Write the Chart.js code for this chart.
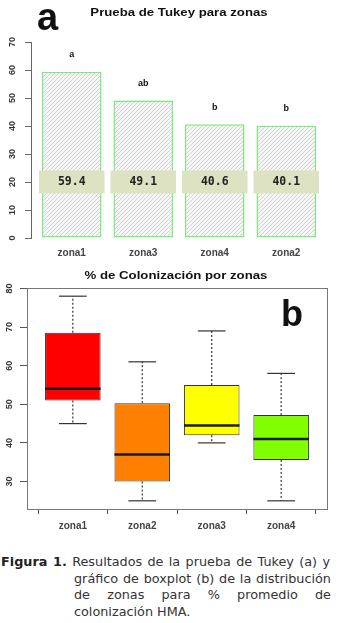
<!DOCTYPE html>
<html>
<head>
<meta charset="utf-8">
<script src="https://cdn.jsdelivr.net/npm/chart.js@4.4.1/dist/chart.umd.min.js"></script>
<style>
body{margin:0;background:#fff;width:337px;height:623px;position:relative;overflow:hidden;}
canvas{position:absolute;left:0;display:block;}
#graficoA{top:0;}
#graficoB{top:262px;}
.rotulo{position:absolute;font-family:"Liberation Sans",Arial,sans-serif;font-weight:bold;color:#111;line-height:1;white-space:nowrap;}
#titA{left:179px;top:7px;font-size:11px;transform:translateX(-50%) scaleX(1.2);}
#titB{left:176px;top:270px;font-size:11.5px;transform:translateX(-50%) scaleX(1.15);}
#letraA{left:37px;top:-2px;font-size:38px;}
#letraB{left:281px;top:296px;font-size:36px;}
#leyenda{position:absolute;left:1px;top:554px;font-family:"DejaVu Sans",Verdana,sans-serif;font-size:12.8px;line-height:16.7px;color:#333;}
#leyenda div{white-space:nowrap;}
#leyenda .l1{width:329px;text-align:justify;text-align-last:justify;}
#leyenda .lj{margin-left:73px;width:257px;text-align:justify;text-align-last:justify;}
#leyenda .ll{margin-left:73px;}
#leyenda b{color:#222;}
</style>
</head>
<body>
<canvas id="graficoA" width="337" height="262"></canvas>
<canvas id="graficoB" width="337" height="273"></canvas>
<div class="rotulo" id="titA">Prueba de Tukey para zonas</div>
<div class="rotulo" id="letraA">a</div>
<div class="rotulo" id="titB">% de Colonización por zonas</div>
<div class="rotulo" id="letraB">b</div>
<div id="leyenda">
  <div class="l1"><b>Figura 1.</b> Resultados de la prueba de Tukey (a) y</div>
  <div class="lj">gráfico de boxplot (b) de la distribución</div>
  <div class="lj">de zonas para % promedio de</div>
  <div class="ll">colonización HMA.</div>
</div>
<script>
// ===== datos (a) prueba de Tukey =====
const zonasA = ["zona1", "zona3", "zona4", "zona2"];
const mediasA = [59.4, 49.1, 40.6, 40.1];
const letrasTukey = ["a", "ab", "b", "b"];
const ticksA = [0, 10, 20, 30, 40, 50, 60, 70];

// ===== datos (b) boxplot =====
const zonasB = ["zona1", "zona2", "zona3", "zona4"];
const minB = [45, 25, 40, 25];
const q1B = [51, 30, 42, 35.6];
const medB = [54, 37, 44.5, 41];
const q3B = [68.5, 50.3, 55, 47.2];
const maxB = [78, 61, 69, 58];
const ticksB = [30, 40, 50, 60, 70, 80];
const coloresB = ["#ff0000", "#ff8000", "#ffff00", "#80ff00"];

const fuenteEje = '"Liberation Sans", Arial, sans-serif';

// trama rayada de las barras
function crearTrama(){
    const c = document.createElement("canvas");
    c.width = 4; c.height = 4;
    const g = c.getContext("2d");
    g.fillStyle = "#f7f7f7";
    g.fillRect(0, 0, 4, 4);
    g.strokeStyle = "#c6c6c6";
    g.lineWidth = 0.8;
    g.beginPath();
    g.moveTo(0, 4); g.lineTo(4, 0);
    g.moveTo(-1, 1); g.lineTo(1, -1);
    g.moveTo(3, 5); g.lineTo(5, 3);
    g.stroke();
    return g.createPattern(c, "repeat");
}

// etiquetas del eje Y giradas (estilo R)
function etiquetasY(cx){
    return {
        id: "etiquetasY",
        afterDraw(chart){
            const {ctx, scales:{y}} = chart;
            ctx.save();
            ctx.font = "bold 9px " + fuenteEje;
            ctx.fillStyle = "#333";
            ctx.textAlign = "center";
            ctx.textBaseline = "middle";
            y.ticks.forEach(t => {
                ctx.save();
                ctx.translate(cx, y.getPixelForValue(t.value));
                ctx.rotate(-Math.PI / 2);
                ctx.fillText(String(t.value), 0, 0);
                ctx.restore();
            });
            ctx.restore();
        }
    };
}

// letras de Tukey + bandas con las medias
const tukeyPlugin = {
    id: "tukey",
    afterDatasetsDraw(chart){
        const {ctx, scales:{y}} = chart;
        const barras = chart.getDatasetMeta(0).data;
        const yBanda = y.getPixelForValue(20);
        ctx.save();
        barras.forEach((b, i) => {
            const w = b.width + 6;
            ctx.fillStyle = "#dde3c2";
            ctx.fillRect(b.x - w / 2, yBanda - 11.5, w, 23);
            ctx.fillStyle = "#222";
            ctx.font = 'bold 11.5px "DejaVu Sans Mono", monospace';
            ctx.textAlign = "center";
            ctx.textBaseline = "middle";
            ctx.fillText(mediasA[i].toFixed(1), b.x, yBanda);
            ctx.font = "bold 9px " + fuenteEje;
            ctx.fillStyle = "#111";
            ctx.fillText(letrasTukey[i], b.x, y.getPixelForValue(mediasA[i] + 6));
        });
        ctx.restore();
    }
};

// bigotes, topes y medianas del boxplot
const cajasPlugin = {
    id: "cajas",
    afterDatasetsDraw(chart){
        const {ctx, scales:{x, y}} = chart;
        const medio = chart.getDatasetMeta(0).data[0].width / 2;
        const linea = (x1, y1, x2, y2) => {
            ctx.beginPath(); ctx.moveTo(x1, y1); ctx.lineTo(x2, y2); ctx.stroke();
        };
        ctx.save();
        zonasB.forEach((z, i) => {
            const cx = x.getPixelForValue(i + 1);
            ctx.strokeStyle = "#333";
            ctx.lineWidth = 1.2;
            ctx.setLineDash([2, 2]);
            linea(cx, y.getPixelForValue(q3B[i]), cx, y.getPixelForValue(maxB[i]));
            linea(cx, y.getPixelForValue(q1B[i]), cx, y.getPixelForValue(minB[i]));
            ctx.setLineDash([]);
            linea(cx - medio / 2, y.getPixelForValue(maxB[i]), cx + medio / 2, y.getPixelForValue(maxB[i]));
            linea(cx - medio / 2, y.getPixelForValue(minB[i]), cx + medio / 2, y.getPixelForValue(minB[i]));
            ctx.strokeStyle = "#1a1a1a";
            ctx.lineWidth = 2.5;
            linea(cx - medio, y.getPixelForValue(medB[i]), cx + medio, y.getPixelForValue(medB[i]));
        });
        ctx.restore();
    },
    afterDraw(chart){
        const {ctx, chartArea:a} = chart;
        ctx.save();
        ctx.strokeStyle = "#777";
        ctx.lineWidth = 1;
        ctx.strokeRect(Math.round(a.left) + 0.5, Math.round(a.top) + 0.5, a.right - a.left, a.bottom - a.top);
        ctx.restore();
    }
};

// ================= GRAFICO A =================
new Chart(document.getElementById("graficoA"), {
    type: "bar",
    data: {
        datasets: [{
            data: mediasA.map((v, i) => ({x: i + 1, y: v})),
            backgroundColor: crearTrama(),
            borderColor: "#7ceb7c",
            borderWidth: 1.5,
            borderSkipped: false,
            categoryPercentage: 1,
            barPercentage: 0.833
        }]
    },
    options: {
        responsive: false,
        animation: false,
        layout: {padding: {top: 42, right: 10, left: 0, bottom: 0}},
        plugins: {legend: {display: false}, tooltip: {enabled: false}},
        scales: {
            x: {
                type: "linear", min: 0.43, max: 4.57, offset: false,
                afterBuildTicks: s => { s.ticks = zonasA.map((_, i) => ({value: i + 1})); },
                ticks: {callback: v => zonasA[v - 1], font: {family: fuenteEje, size: 10, weight: "bold"}, color: "#444", padding: 9, maxRotation: 0, autoSkip: false},
                grid: {display: false, drawTicks: false},
                border: {display: false},
                afterFit: s => { s.height = 24; }
            },
            y: {
                min: 0, max: 70,
                afterBuildTicks: s => { s.ticks = ticksA.map(v => ({value: v})); },
                ticks: {display: false},
                grid: {drawOnChartArea: false, tickLength: 6, color: "#666"},
                border: {display: true, color: "#666"},
                afterFit: s => { s.width = 31; }
            }
        }
    },
    plugins: [etiquetasY(13), tukeyPlugin]
});

// ================= GRAFICO B =================
const rangoB = Math.max(...maxB) - Math.min(...minB);
new Chart(document.getElementById("graficoB"), {
    type: "bar",
    data: {
        datasets: [{
            data: zonasB.map((z, i) => ({x: i + 1, y: [q1B[i], q3B[i]]})),
            backgroundColor: coloresB,
            borderColor: "#333",
            borderWidth: 1,
            borderSkipped: false,
            categoryPercentage: 0.8,
            barPercentage: 1
        }]
    },
    options: {
        responsive: false,
        animation: false,
        layout: {padding: {top: 26, right: 10, left: 0, bottom: 0}},
        plugins: {legend: {display: false}, tooltip: {enabled: false}},
        scales: {
            x: {
                type: "linear", min: 0.34, max: 4.66, offset: false,
                afterBuildTicks: s => { s.ticks = zonasB.map((_, i) => ({value: i + 1})); },
                ticks: {callback: v => zonasB[v - 1], font: {family: fuenteEje, size: 10, weight: "bold"}, color: "#444", padding: 6, maxRotation: 0, autoSkip: false},
                grid: {drawOnChartArea: false, tickLength: 5, color: "#555"},
                border: {display: false},
                afterFit: s => { s.height = 26; }
            },
            y: {
                min: Math.min(...minB) - 0.04 * rangoB,
                max: Math.max(...maxB) + 0.04 * rangoB,
                afterBuildTicks: s => { s.ticks = ticksB.map(v => ({value: v})); },
                ticks: {display: false},
                grid: {drawOnChartArea: false, tickLength: 7, color: "#555"},
                border: {display: false},
                afterFit: s => { s.width = 27; }
            }
        }
    },
    plugins: [etiquetasY(10), cajasPlugin]
});
</script>
</body>
</html>
